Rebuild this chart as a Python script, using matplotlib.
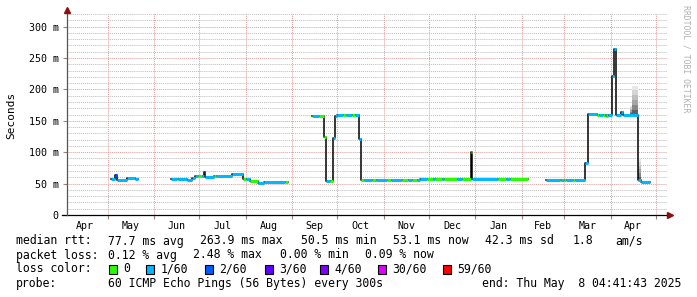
import numpy as np
import pandas as pd
import matplotlib
matplotlib.use("Agg")
import matplotlib.pyplot as plt
import matplotlib.dates as mdates
from matplotlib.patches import Rectangle
from matplotlib.transforms import ScaledTranslation

nan = np.nan

# median rtt in ms, drawn as steps; a nan row closes a block of data
rtt_dates = [
    # May 2024
    "2024-05-03", "2024-05-06", "2024-05-07", "2024-05-14", "2024-05-19", "2024-05-21",
    # Jun - Aug 2024
    "2024-06-12", "2024-06-16", "2024-06-17", "2024-06-23", "2024-06-26", "2024-06-28",
    "2024-06-30", "2024-07-03", "2024-07-04", "2024-07-05", "2024-07-11", "2024-07-12",
    "2024-07-23", "2024-07-30", "2024-08-01", "2024-08-04", "2024-08-09", "2024-08-13",
    "2024-08-27", "2024-08-29",
    # Sep 2024 - Feb 2025
    "2024-09-14", "2024-09-15", "2024-09-19", "2024-09-22", "2024-09-23 12:00", "2024-09-26",
    "2024-09-28", "2024-09-29 12:00", "2024-10-01", "2024-10-05", "2024-10-07", "2024-10-11",
    "2024-10-13", "2024-10-15 12:00", "2024-10-16 12:00", "2024-10-19", "2024-10-24",
    "2024-10-27", "2024-11-03", "2024-11-06", "2024-11-13", "2024-11-17", "2024-11-20",
    "2024-11-23", "2024-11-25", "2024-11-30", "2024-12-04", "2024-12-05", "2024-12-10",
    "2024-12-11", "2024-12-20", "2024-12-23", "2024-12-29", "2024-12-30", "2025-01-16",
    "2025-01-21", "2025-01-24", "2025-02-05",
    # Feb - Apr 2025
    "2025-02-17", "2025-02-26", "2025-02-27", "2025-03-01", "2025-03-02", "2025-03-07",
    "2025-03-08", "2025-03-15", "2025-03-16 18:00", "2025-03-23", "2025-03-24", "2025-03-27",
    "2025-03-28", "2025-03-29", "2025-03-30", "2025-04-02", "2025-04-03", "2025-04-04 12:00",
    "2025-04-08", "2025-04-09", "2025-04-19", "2025-04-21", "2025-04-27",
]
rtt_ms = [
    57, 64, 56.5, 59, 57, nan,
    57, 57, 57, 55.5, 59.5, 61.5,
    61.5, 61.5, 68, 61, 61.5, 62,
    66, 57.5, 57.5, 54.5, 51, 53,
    53, nan,
    158, 158, 158, 124, 54.5, 54.5,
    122, 157, 158.5, 158.5, 158.5, 159,
    159, 121, 56, 56, 56,
    56, 56, 56, 56, 55.5, 55,
    56, 57.5, 57.5, 57.5, 57.5, 57.5,
    57.5, 57.5, 57.5, 100, 58, 57.5,
    57.5, 57.5, nan,
    56, 56, 56, 56, 56, 56,
    56, 82, 160.5, 160, 159.5, 159,
    159, 158, 159.5, 222, 265, 160,
    164, 160, 55, 52, nan,
]
# index into loss_labels / loss_colors
rtt_loss = [
    1, 2, 1, 1, 1, 0,
    1, 0, 1, 1, 1, 1,
    0, 1, 2, 1, 0, 1,
    1, 0, 1, 0, 1, 1,
    0, 0,
    0, 1, 0, 0, 1, 0,
    1, 1, 1, 0, 1, 0,
    1, 1, 0, 1, 0,
    1, 0, 1, 0, 1, 0,
    1, 1, 0, 1, 0, 1,
    0, 1, 0, 0, 1, 0,
    1, 0, 0,
    1, 0, 1, 0, 1, 0,
    1, 1, 1, 0, 1, 0,
    1, 0, 1, 1, 1, 1,
    1, 1, 1, 1, 0,
]

# ping spread ("smoke") around the median
smoke_dates = ["2025-04-14", "2025-04-15 12:00", "2025-04-19", "2025-04-21", "2025-04-22"]
smoke_lo = [160, 160, 55, 54, nan]
smoke_hi = [174, 206, 90, 66, nan]

loss_labels = ["0", "1/60", "2/60", "3/60", "4/60", "30/60", "59/60"]
loss_colors = ["#26ff00", "#00b8ff", "#0059ff", "#5e00ff", "#7e00ff", "#dd00ff", "#ff0000"]

rtt_stats = ["77.7 ms avg", "263.9 ms max", "50.5 ms min", "53.1 ms now", "42.3 ms sd", "1.8", "am/s"]
loss_stats = ["0.12 % avg", "2.48 % max", "0.00 % min", "0.09 % now"]
probe_text = "60 ICMP Echo Pings (56 Bytes) every 300s"
end_text = "end: Thu May  8 04:41:43 2025"

t_start = pd.Timestamp("2024-04-04 00:00")
t_end = pd.Timestamp("2025-05-08 04:41:43")

MONO = "DejaVu Sans Mono"
W, H = 697, 297


def fx(x):
    return x / W


def fy(y):
    return 1 - y / H


fig = plt.figure(figsize=(W / 100, H / 100), dpi=100)
fig.patch.set_facecolor("white")
ax = fig.add_axes([fx(67), 82 / H, 599.5 / W, 201 / H])
ax.set_facecolor("white")

x = mdates.date2num(pd.to_datetime(rtt_dates, format="mixed"))
y = np.array(rtt_ms, dtype=float)

# smoke, darker near the median
sx = mdates.date2num(pd.to_datetime(smoke_dates, format="mixed"))
lo = np.array(smoke_lo, dtype=float)
hi = np.array(smoke_hi, dtype=float)
greys = ["#606060", "#888888", "#a6a6a6", "#bebebe", "#d4d4d4", "#e8e8e8"]
n = len(greys)
for k, g in enumerate(greys):
    ax.fill_between(sx, lo + (hi - lo) * k / n, lo + (hi - lo) * (k + 1) / n,
                    step="post", color=g, linewidth=0, zorder=2)

# black step line joining the medians
ax.step(x, y, where="post", color="black", linewidth=1.1, zorder=3)

# loss coloured pieces on top
ok = ~np.isnan(y[:-1])
seg_cols = [loss_colors[c] for c in np.array(rtt_loss)[:-1][ok]]
ax.hlines(y[:-1][ok], x[:-1][ok], x[1:][ok], colors=seg_cols, linewidth=2.2, zorder=4)

# y axis
ax.set_yticks(np.arange(0, 301, 50))
ax.set_yticks(np.arange(10, 321, 10), minor=True)
ax.set_yticklabels(["0"] + ["%d m" % v for v in range(50, 301, 50)],
                   fontfamily=MONO, fontsize=7.2)
lab0 = ax.get_yticklabels()[0]
lab0.set_transform(lab0.get_transform() + ScaledTranslation(-11 / 100, 0, fig.dpi_scale_trans))

# x axis: month lines, labels in the middle of each month
month_starts = pd.date_range("2024-04-01", "2025-06-01", freq="MS")
mids = month_starts[:-1] + (month_starts[1:] - month_starts[:-1]) / 2
starts_in = [d for d in month_starts if t_start <= d <= t_end]
mids_in = [d for d in mids if t_start <= d <= t_end]
ax.set_xticks(mdates.date2num(starts_in))
ax.set_xticklabels([])
ax.set_xticks(mdates.date2num(mids_in), minor=True)
ax.set_xticklabels([d.strftime("%b") for d in mids_in], minor=True, fontfamily=MONO, fontsize=7.2)

ax.set_xlim(mdates.date2num(t_start), mdates.date2num(t_end))
ax.set_ylim(0, 320)

ax.tick_params(axis="both", which="major", length=3, width=0.8, color="#888888", pad=3)
ax.tick_params(axis="x", which="minor", length=0, pad=4)
ax.tick_params(axis="y", which="minor", length=0)

ax.yaxis.grid(True, which="minor", color="#bcbcbc", linestyle=(0, (1, 1)), linewidth=0.7, zorder=0)
ax.yaxis.grid(True, which="major", color="#e39a9a", linestyle=(0, (1, 1)), linewidth=0.7, zorder=0)
ax.xaxis.grid(True, which="major", color="#e39a9a", linestyle=(0, (1, 1)), linewidth=0.7, zorder=0)
ax.set_axisbelow(True)

for s in ax.spines.values():
    s.set_visible(False)

# axis lines with arrow heads
ax.plot([-5 / 599.5, 1.006], [0, 0], transform=ax.transAxes, color="black",
        linewidth=0.9, clip_on=False, zorder=5)
ax.plot([0, 0], [0, 1.02], transform=ax.transAxes, color="#555555",
        linewidth=0.9, clip_on=False, zorder=5)
ax.plot([1.0065], [0], marker=">", markersize=4, color="#8b1010", transform=ax.transAxes,
        clip_on=False, zorder=6)
ax.plot([0], [1.022], marker="^", markersize=4, color="#8b1010", transform=ax.transAxes,
        clip_on=False, zorder=6)

fig.text(fx(11), fy(115), "Seconds", rotation=90, ha="center", va="center",
         fontfamily=MONO, fontsize=8)
fig.text(fx(686), fy(5), "RRDTOOL / TOBI OETIKER", rotation=270, ha="center", va="top",
         fontfamily=MONO, fontsize=5.9, color="#b0b0b0")

# legend block
fs = 8.3
rows = [241, 255, 269, 284]
fig.text(fx(16), fy(rows[0]), "median rtt:", fontfamily=MONO, fontsize=fs, va="center")
for s, xp in zip(rtt_stats, [108, 200, 301, 393, 485, 573, 615]):
    fig.text(fx(xp), fy(rows[0]), s, fontfamily=MONO, fontsize=fs, va="center")

fig.text(fx(16), fy(rows[1]), "packet loss:", fontfamily=MONO, fontsize=fs, va="center")
for s, xp in zip(loss_stats, [108, 193, 279.5, 365]):
    fig.text(fx(xp), fy(rows[1]), s, fontfamily=MONO, fontsize=fs, va="center")

fig.text(fx(16), fy(rows[2]), "loss color:", fontfamily=MONO, fontsize=fs, va="center")
for lab, col, xp in zip(loss_labels, loss_colors, [109, 146, 205, 265, 319.5, 378, 443]):
    fig.patches.append(Rectangle((fx(xp), fy(rows[2] + 4.5)), 8 / W, 9 / H,
                                 transform=fig.transFigure, facecolor=col,
                                 edgecolor="black", linewidth=0.8))
    fig.text(fx(xp + 14.5), fy(rows[2]), lab, fontfamily=MONO, fontsize=fs, va="center")

fig.text(fx(16), fy(rows[3]), "probe:", fontfamily=MONO, fontsize=fs, va="center")
fig.text(fx(108), fy(rows[3]), probe_text, fontfamily=MONO, fontsize=fs, va="center")
fig.text(fx(681), fy(rows[3]), end_text, fontfamily=MONO, fontsize=fs, va="center", ha="right")

fig.savefig("out.png", dpi=100, facecolor="white")
